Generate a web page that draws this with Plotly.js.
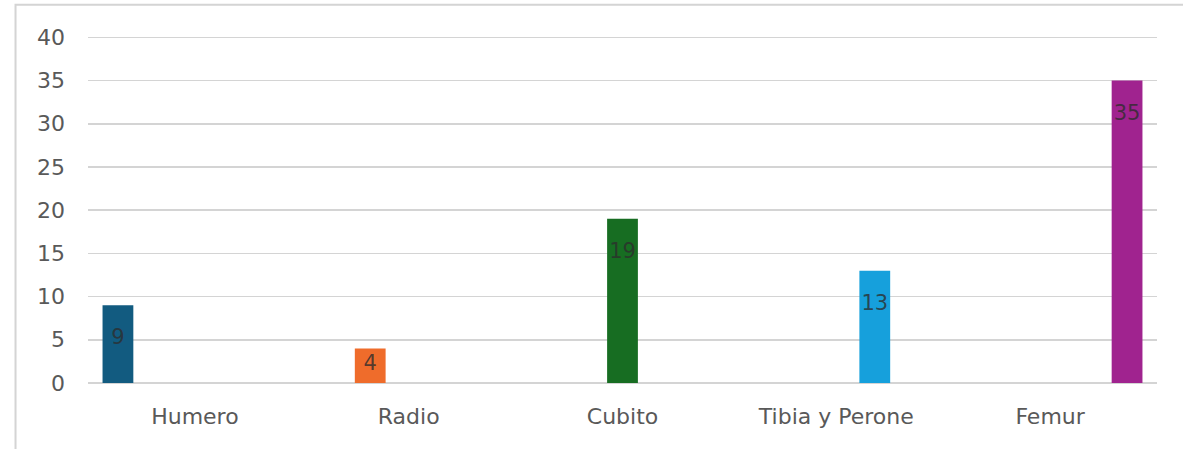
<!DOCTYPE html>
<html>
<head>
<meta charset="utf-8">
<script src="https://cdn.plot.ly/plotly-3.0.1.min.js"></script>
<style>
html,body{margin:0;padding:0;background:#fff;}
#chart{width:1183px;height:449px;}
</style>
</head>
<body>
<div id="chart"></div>
<script>
var categories = ["Humero", "Radio", "Cubito", "Tibia y Perone", "Femur"];
var values = [9, 4, 19, 13, 35];
var colors = ["#125b80", "#ef6c2b", "#176d22", "#16a0dc", "#a0238f"];
var yTicks = [0, 5, 10, 15, 20, 25, 30, 35, 40];

function labelFor(v) {
  if (v < 5) return String(v);
  return "\u00a0<br><span style=\"font-size:21px\">" + v + "</span>";
}

var traces = categories.map(function (c, i) {
  var ys = categories.map(function (cc, j) { return j === i ? values[i] : null; });
  var ts = categories.map(function (cc, j) { return j === i ? labelFor(values[i]) : ""; });
  return {
    type: "bar",
    x: categories,
    y: ys,
    name: c,
    offsetgroup: String(i),
    marker: { color: colors[i], line: { width: 0 } },
    text: ts,
    textposition: "inside",
    insidetextanchor: "end",
    constraintext: "none",
    textangle: 0,
    textfont: { family: "DejaVu Sans", size: values[i] < 5 ? 21 : 16.2, color: "rgba(45,45,45,0.8)" },
    hoverinfo: "x+y"
  };
});

var layout = {
  width: 1183,
  height: 449,
  margin: { l: 88, r: 26, t: 33, b: 66, pad: 0 },
  paper_bgcolor: "#ffffff",
  plot_bgcolor: "#ffffff",
  showlegend: false,
  barmode: "group",
  bargap: 0.1,
  bargroupgap: 0.2,
  font: { family: "DejaVu Sans", color: "#595959" },
  xaxis: {
    type: "category",
    categoryarray: categories,
    showgrid: false,
    showline: false,
    zeroline: false,
    ticks: "",
    tickfont: { family: "DejaVu Sans", size: 22, color: "#595959" },
    ticklabelstandoff: 18
  },
  yaxis: {
    range: [0, 40.5],
    tickvals: yTicks,
    ticktext: yTicks.map(String),
    showgrid: true,
    gridcolor: "#d4d4d4",
    gridwidth: 1.6,
    zeroline: true,
    zerolinecolor: "#d4d4d4",
    zerolinewidth: 1.6,
    showline: false,
    ticks: "",
    tickfont: { family: "DejaVu Sans", size: 22, color: "#595959" },
    ticklabelstandoff: 22
  },
  shapes: [{
    type: "rect",
    xref: "paper", yref: "paper",
    x0: -0.0678, x1: 1.2,
    y0: -0.4, y1: 1.081,
    line: { color: "#d4d4d4", width: 2 },
    fillcolor: "rgba(0,0,0,0)",
    layer: "below"
  }]
};

Plotly.newPlot("chart", traces, layout, { displayModeBar: false, staticPlot: true });
</script>
</body>
</html>
